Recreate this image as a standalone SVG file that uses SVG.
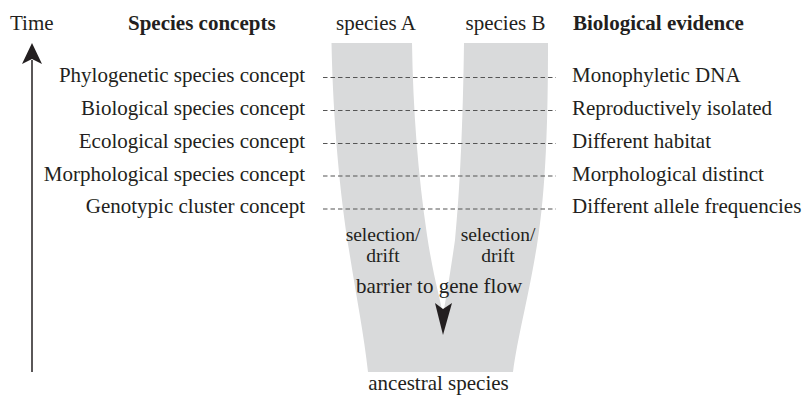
<svg xmlns="http://www.w3.org/2000/svg" width="804" height="396" viewBox="0 0 804 396">
<style>
text{font-family:"Liberation Serif","Times New Roman",serif;font-size:21px;fill:#231f20}
.b{font-weight:bold}
.e{text-anchor:end}
.m{text-anchor:middle}
.s{font-size:19.5px}
.d{stroke:#555;stroke-width:1.2;stroke-dasharray:4.5 3;fill:none}
</style>
<rect width="804" height="396" fill="#fff"/>
<g id="lineages">
<path d="M331.5,43 L412,43 C413,110 418,175 427,235 C433,275 440,298 443,315 C446,298 450,275 455,240 C460,190 463,120 464,43 L548,43 C548,120 546,190 537,245 C528,300 518,335 513,372 L368,372 C364,335 356,295 349,250 C340,195 333,120 331.5,43 Z" fill="#d9dadb"/>
</g>
<g id="connectors">
<line class="d" x1="323" y1="77.5" x2="556" y2="77.5"/>
<line class="d" x1="323" y1="110.5" x2="556" y2="110.5"/>
<line class="d" x1="323" y1="143.5" x2="556" y2="143.5"/>
<line class="d" x1="323" y1="176" x2="556" y2="176"/>
<line class="d" x1="323" y1="209" x2="556" y2="209"/>
<line x1="32" y1="60" x2="32" y2="372" stroke="#231f20" stroke-width="1.5"/>
<path d="M32,43 L42,64 L32,59 L22,64 Z" fill="#231f20"/>
<path d="M435,303 L443,309 L452,303 L443,335 Z" fill="#231f20"/>
</g>
<g id="time"><text x="10" y="30">Time</text></g>
<g id="header-concepts"><text class="b" x="128" y="30">Species concepts</text></g>
<g id="species-a"><text class="m" x="376" y="30">species A</text></g>
<g id="species-b"><text class="m" x="505.5" y="30">species B</text></g>
<g id="header-evidence"><text class="b" x="573" y="30">Biological evidence</text></g>
<g id="concept-phylogenetic"><text class="e" x="305" y="82">Phylogenetic species concept</text></g>
<g id="concept-biological"><text class="e" x="305" y="115">Biological species concept</text></g>
<g id="concept-ecological"><text class="e" x="305" y="147.5">Ecological species concept</text></g>
<g id="concept-morphological"><text class="e" x="305" y="180.5">Morphological species concept</text></g>
<g id="concept-genotypic"><text class="e" x="305" y="213">Genotypic cluster concept</text></g>
<g id="evidence-dna"><text x="572" y="82">Monophyletic DNA</text></g>
<g id="evidence-isolated"><text x="572" y="115">Reproductively isolated</text></g>
<g id="evidence-habitat"><text x="572" y="147.5">Different habitat</text></g>
<g id="evidence-morph"><text x="572" y="180.5">Morphological distinct</text></g>
<g id="evidence-allele"><text x="572" y="213">Different allele frequencies</text></g>
<g id="selection-a"><text class="m s" x="383" y="241">selection/</text><text class="m s" x="383" y="261.5">drift</text></g>
<g id="selection-b"><text class="m s" x="498" y="241">selection/</text><text class="m s" x="498" y="261.5">drift</text></g>
<g id="barrier"><text class="m" x="439" y="293">barrier to gene flow</text></g>
<g id="ancestral"><text class="m" x="438.5" y="390">ancestral species</text></g>
</svg>
